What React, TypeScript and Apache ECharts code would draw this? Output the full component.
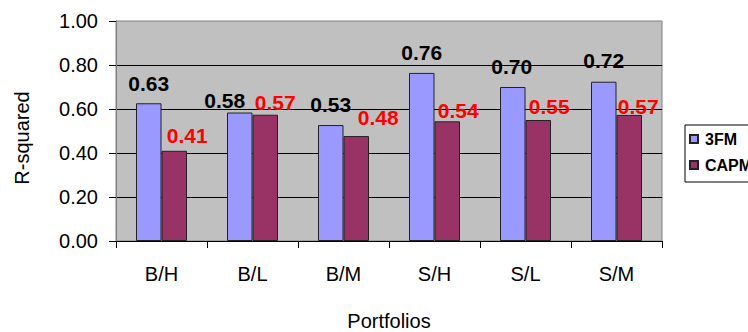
import { useEffect, useRef } from "react";
import * as echarts from "echarts";

const categories = ["B/H", "B/L", "B/M", "S/H", "S/L", "S/M"];
const threeFM = [0.626, 0.584, 0.527, 0.764, 0.7, 0.724];
const capm = [0.41, 0.574, 0.477, 0.544, 0.55, 0.573];
const seriesNames = ["3FM", "CAPM"];

// label placement tweaks (style, not data)
const offs3FM = [[0, -20], [-15, -12], [0, -21], [0, -20], [-1, -20.5], [0, -21]];
const offsCAPM = [[13, -15], [10, -12], [22, -19], [11, -11], [11, -13.5], [9, -8.5]];

const FONT = "'Liberation Sans', Arial, sans-serif";

export default function App() {
  const ref = useRef<HTMLDivElement>(null);
  useEffect(() => {
    document.body.style.margin = "0";
    const chart = echarts.init(ref.current!, null, { renderer: "svg" });
    const labelBase = {
      show: true,
      position: "top",
      distance: 0,
      verticalAlign: "middle",
      align: "center",
      fontFamily: FONT,
      fontSize: 21,
      fontWeight: "bold",
      formatter: (p: any) => Number(p.value).toFixed(2),
    };
    chart.setOption({
      animation: false,
      textStyle: { fontFamily: FONT },
      grid: {
        left: 116,
        top: 21,
        width: 546,
        height: 220,
        containLabel: false,
        outerBoundsMode: "none",
        show: true,
        backgroundColor: "#C0C0C0",
        borderColor: "#808080",
        borderWidth: 1,
      },
      legend: {
        data: seriesNames,
        orient: "vertical",
        left: 685,
        top: 125,
        padding: [6, 24, 9, 4],
        itemWidth: 8,
        itemHeight: 8,
        itemGap: 10,
        icon: "rect",
        borderColor: "#000",
        borderWidth: 1,
        backgroundColor: "#fff",
        textStyle: {
          fontFamily: FONT,
          fontSize: 16,
          fontWeight: "bold",
          color: "#000",
          padding: [0, 0, 0, 2],
        },
      },
      xAxis: {
        type: "category",
        data: categories,
        name: "Portfolios",
        nameLocation: "middle",
        nameGap: 70,
        nameTextStyle: { fontFamily: FONT, fontSize: 20, color: "#000" },
        axisLine: { show: true, lineStyle: { color: "#000", width: 1 } },
        axisTick: { show: true, length: 7, lineStyle: { color: "#000" } },
        axisLabel: { fontFamily: FONT, fontSize: 20, color: "#000", margin: 23 },
      },
      yAxis: {
        type: "value",
        min: 0,
        max: 1,
        interval: 0.2,
        name: "R-squared",
        nameLocation: "middle",
        nameGap: 84,
        nameRotate: 90,
        nameTextStyle: { fontFamily: FONT, fontSize: 20, color: "#000", padding: [0, 0, 0, -14] },
        axisLine: { show: true, lineStyle: { color: "#808080", width: 1 } },
        axisTick: { show: true, length: 7, lineStyle: { color: "#000" } },
        axisLabel: {
          fontFamily: FONT,
          fontSize: 20,
          color: "#000",
          margin: 18,
          formatter: (v: number) => v.toFixed(2),
        },
        splitLine: { show: true, showMaxLine: false, lineStyle: { color: "#000", width: 1 } },
      },
      series: [
        {
          name: seriesNames[0],
          type: "bar",
          barWidth: 25.5,
          barGap: "0%",
          itemStyle: { color: "#9999FF", borderColor: "#222", borderWidth: 1 },
          label: { ...labelBase, color: "#000" },
          data: threeFM.map((v, i) => ({ value: v, label: { offset: offs3FM[i] } })),
        },
        {
          name: seriesNames[1],
          type: "bar",
          barWidth: 25.5,
          barGap: "0%",
          itemStyle: { color: "#993366", borderColor: "#222", borderWidth: 1 },
          label: { ...labelBase, color: "#FF0000" },
          data: capm.map((v, i) => ({ value: v, label: { offset: offsCAPM[i] } })),
        },
      ],
    });
    return () => chart.dispose();
  }, []);
  return <div ref={ref} style={{ width: 748, height: 332 }} />;
}
